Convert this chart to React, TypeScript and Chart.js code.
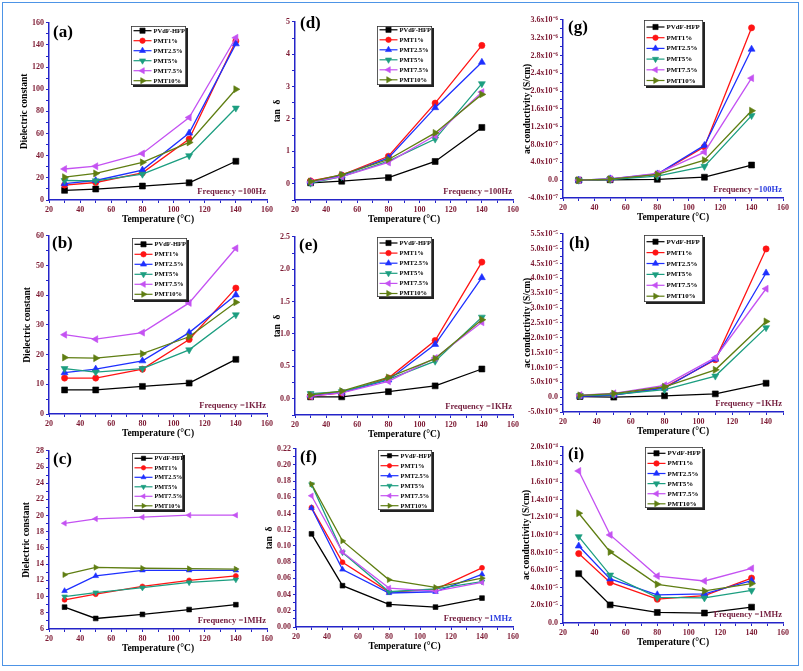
import React, { useEffect, useRef } from 'react';
import { Chart, registerables } from 'chart.js';
Chart.register(...registerables);

// ---------------- DATA ----------------
const temperatures = [30, 50, 80, 110, 140];
const seriesNames = ['PVdF-HFP', 'PMT1%', 'PMT2.5%', 'PMT5%', 'PMT7.5%', 'PMT10%'];

// rows follow seriesNames, columns follow temperatures
const dielectric100Hz = [
  [8.7, 9.9, 12.6, 15.5, 35],
  [13.5, 15.8, 24.5, 55, 143.5],
  [14.7, 17.6, 27, 60.4, 141],
  [17.6, 17.3, 23.3, 40, 83],
  [28, 30.5, 42, 74.5, 146.5],
  [20.6, 24, 34, 52, 100],
];
const tanDelta100Hz = [
  [0.03, 0.08, 0.19, 0.69, 1.74],
  [0.09, 0.27, 0.85, 2.49, 4.27],
  [0.06, 0.25, 0.8, 2.35, 3.75],
  [0.02, 0.22, 0.7, 1.38, 3.09],
  [0.05, 0.22, 0.66, 1.49, 2.83],
  [0.07, 0.28, 0.75, 1.57, 2.76],
];
const conductivity100Hz = [
  [0, 1e-8, 2e-8, 6.7e-8, 3.4e-7],
  [0, 2e-8, 1.3e-7, 7.5e-7, 3.42e-6],
  [0, 3e-8, 1.4e-7, 7.8e-7, 2.94e-6],
  [0, 1.5e-8, 9e-8, 3.1e-7, 1.45e-6],
  [0, 3e-8, 1.5e-7, 6.3e-7, 2.29e-6],
  [0, 2.5e-8, 1.3e-7, 4.5e-7, 1.56e-6],
];
const dielectric1kHz = [
  [8.1, 8.1, 9.3, 10.4, 18.4],
  [12.1, 12.1, 15.1, 25.1, 42.4],
  [13.9, 15.1, 17.9, 27.4, 40.1],
  [15.3, 14.1, 15.3, 21.6, 33.4],
  [26.7, 25.2, 27.4, 37.4, 55.8],
  [19.0, 18.8, 20.3, 26.0, 37.6],
];
const tanDelta1kHz = [
  [0.03, 0.03, 0.11, 0.2, 0.46],
  [0.04, 0.09, 0.32, 0.9, 2.11],
  [0.05, 0.1, 0.29, 0.84, 1.87],
  [0.08, 0.11, 0.3, 0.58, 1.26],
  [0.04, 0.09, 0.27, 0.63, 1.18],
  [0.06, 0.12, 0.33, 0.62, 1.22],
];
const conductivity1kHz = [
  [2e-7, 0, 4.5e-7, 1.1e-6, 4.7e-6],
  [4e-7, 8e-7, 3.3e-6, 1.26e-5, 4.99e-5],
  [3e-7, 7e-7, 3.0e-6, 1.28e-5, 4.18e-5],
  [5e-7, 9e-7, 2.5e-6, 7.1e-6, 2.34e-5],
  [7e-7, 1.3e-6, 4.0e-6, 1.33e-5, 3.65e-5],
  [6e-7, 1.2e-6, 3.5e-6, 9.2e-6, 2.55e-5],
];
const dielectric1MHz = [
  [8.7, 7.3, 7.8, 8.4, 9.0],
  [9.6, 10.3, 11.25, 12.0, 12.55],
  [10.7, 12.55, 13.25, 13.25, 13.25],
  [10.0, 10.5, 11.1, 11.75, 12.1],
  [19.05, 19.6, 19.8, 20.05, 20.05],
  [12.7, 13.6, 13.5, 13.45, 13.4],
];
const tanDelta1MHz = [
  [0.115, 0.051, 0.028, 0.0246, 0.0357],
  [0.1474, 0.08, 0.043, 0.0464, 0.073],
  [0.147, 0.071, 0.042, 0.0435, 0.065],
  [0.176, 0.092, 0.0435, 0.047, 0.056],
  [0.162, 0.0924, 0.048, 0.0443, 0.055],
  [0.1765, 0.1063, 0.0583, 0.0489, 0.0603],
];
const conductivity1MHz = [
  [5.6e-5, 2.06e-5, 1.2e-5, 1.13e-5, 1.8e-5],
  [7.88e-5, 4.6e-5, 2.7e-5, 3.1e-5, 5.1e-5],
  [8.74e-5, 5.0e-5, 3.2e-5, 3.3e-5, 4.8e-5],
  [9.8e-5, 5.44e-5, 2.9e-5, 2.85e-5, 3.7e-5],
  [1.726e-4, 1.0e-4, 5.33e-5, 4.77e-5, 6.2e-5],
  [1.246e-4, 8.07e-5, 4.39e-5, 3.64e-5, 4.47e-5],
];

// ---------------- TICK LABELS ----------------
const temperatureTickLabels = ['20', '40', '60', '80', '100', '120', '140', '160'];
const dielectric100HzTickLabels = ['0', '20', '40', '60', '80', '100', '120', '140', '160'];
const dielectric1kHzTickLabels = ['0', '10', '20', '30', '40', '50', '60'];
const dielectric1MHzTickLabels = ['6', '8', '10', '12', '14', '16', '18', '20', '22', '24', '26', '28'];
const tanDelta100HzTickLabels = ['0', '1', '2', '3', '4', '5'];
const tanDelta1kHzTickLabels = ['0.0', '0.5', '1.0', '1.5', '2.0', '2.5'];
const tanDelta1MHzTickLabels = ['0.00', '0.02', '0.04', '0.06', '0.08', '0.10', '0.12', '0.14', '0.16', '0.18', '0.20', '0.22'];
const conductivity100HzTickValues = [-4e-7, 0, 4e-7, 8e-7, 1.2e-6, 1.6e-6, 2.0e-6, 2.4e-6, 2.8e-6, 3.2e-6, 3.6e-6];
const conductivity100HzTickLabels = ['-4.0x10⁻⁷', '0.0', '4.0x10⁻⁷', '8.0x10⁻⁷', '1.2x10⁻⁶', '1.6x10⁻⁶', '2.0x10⁻⁶', '2.4x10⁻⁶', '2.8x10⁻⁶', '3.2x10⁻⁶', '3.6x10⁻⁶'];
const conductivity1kHzTickValues = [-5e-6, 0, 5e-6, 1e-5, 1.5e-5, 2e-5, 2.5e-5, 3e-5, 3.5e-5, 4e-5, 4.5e-5, 5e-5, 5.5e-5];
const conductivity1kHzTickLabels = ['-5.0x10⁻⁶', '0.0', '5.0x10⁻⁶', '1.0x10⁻⁵', '1.5x10⁻⁵', '2.0x10⁻⁵', '2.5x10⁻⁵', '3.0x10⁻⁵', '3.5x10⁻⁵', '4.0x10⁻⁵', '4.5x10⁻⁵', '5.0x10⁻⁵', '5.5x10⁻⁵'];
const conductivity1MHzTickValues = [0, 2e-5, 4e-5, 6e-5, 8e-5, 1e-4, 1.2e-4, 1.4e-4, 1.6e-4, 1.8e-4, 2e-4];
const conductivity1MHzTickLabels = ['0.0', '2.0x10⁻⁵', '4.0x10⁻⁵', '6.0x10⁻⁵', '8.0x10⁻⁵', '1.0x10⁻⁴', '1.2x10⁻⁴', '1.4x10⁻⁴', '1.6x10⁻⁴', '1.8x10⁻⁴', '2.0x10⁻⁴'];

// ---------------- STYLE ----------------
const FONT = "'Liberation Serif', 'Times New Roman', serif";
const AXIS_BLUE = '#2424c8';
const TICK_RED = '#7d1a33';
const FREQ_RED = '#762040';
const FREQ_BLUE = '#2a3ce0';
const SERIES_COLORS = ['#000000', '#ff1414', '#1e30ff', '#1c9e80', '#c452f2', '#5f7e12'];
const POINT_STYLES = ['rect', 'circle', 'triangle', 'triangle', 'triangle', 'triangle'];
const POINT_ROT = [0, 0, 0, 180, -90, 90];

const DIEL = 'Dielectric constant';
const TAN = 'tan  δ';
const COND = 'ac conductivity (S/cm)';

const panels = [
  { key: 'a', data: dielectric100Hz, yLabels: dielectric100HzTickLabels, yMin: 0, yMax: 160, yTitle: DIEL, freq: '100Hz', freqBlue: false,
    L: 49, T: 22, R: 267, B: 200, yTitleX: 25, letter: [53, 33], legend: [131, 26, 55, 59, 10, 4.7], pr: 3.1, lf: 6.5 },
  { key: 'd', data: tanDelta100Hz, yLabels: tanDelta100HzTickLabels, yMin: -0.5, yMax: 5, yTitle: TAN, freq: '100Hz', freqBlue: false,
    L: 295, T: 21, R: 513, B: 200, yTitleX: 278, letter: [300, 24], legend: [377, 26, 55, 59, 10, 3.8], pr: 3.1, lf: 6.5 },
  { key: 'g', data: conductivity100Hz, yValues: conductivity100HzTickValues, yLabels: conductivity100HzTickLabels, yMin: -4e-7, yMax: 3.6e-6, yTitle: COND, freq: '100Hz', freqBlue: true,
    L: 563, T: 19, R: 783, B: 198, yTitleX: 528, letter: [568, 28], legend: [644, 20, 59, 66, 10.7, 7], pr: 3.1, lf: 6.9 },
  { key: 'b', data: dielectric1kHz, yLabels: dielectric1kHzTickLabels, yMin: 0, yMax: 60, yTitle: DIEL, freq: '1KHz', freqBlue: false,
    L: 49, T: 235, R: 267, B: 414, yTitleX: 28, letter: [52, 244], legend: [132, 238, 55, 62, 10, 6.3], pr: 3.1, lf: 6.5 },
  { key: 'e', data: tanDelta1kHz, yLabels: tanDelta1kHzTickLabels, yMin: -0.25, yMax: 2.5, yTitle: TAN, freq: '1KHz', freqBlue: false,
    L: 295, T: 236, R: 513, B: 415, yTitleX: 278, letter: [299, 246], legend: [377, 237, 55, 60, 10.1, 6], pr: 3.1, lf: 6.5 },
  { key: 'h', data: conductivity1kHz, yValues: conductivity1kHzTickValues, yLabels: conductivity1kHzTickLabels, yMin: -5e-6, yMax: 5.5e-5, yTitle: COND, freq: '1KHz', freqBlue: false,
    L: 563, T: 233, R: 783, B: 412, yTitleX: 528, xMax: 150, letter: [569, 244], legend: [644, 235, 59, 67, 10.9, 6.7], pr: 3.1, lf: 6.9 },
  { key: 'c', data: dielectric1MHz, yLabels: dielectric1MHzTickLabels, yMin: 6, yMax: 28, yTitle: DIEL, freq: '1MHz', freqBlue: false,
    L: 49, T: 450, R: 267, B: 629, yTitleX: 27, letter: [53, 460], legend: [132, 453, 51, 57, 9.5, 5.3], pr: 2.5, lf: 6.2 },
  { key: 'f', data: tanDelta1MHz, yLabels: tanDelta1MHzTickLabels, yMin: 0, yMax: 0.22, yTitle: TAN, freq: '1MHz', freqBlue: true,
    L: 296, T: 448, R: 513, B: 627, yTitleX: 270, letter: [300, 458], legend: [378, 450, 54, 60, 10, 5.7], pr: 2.5, lf: 6.4 },
  { key: 'i', data: conductivity1MHz, yValues: conductivity1MHzTickValues, yLabels: conductivity1MHzTickLabels, yMin: 0, yMax: 2e-4, yTitle: COND, freq: '1MHz', freqBlue: false,
    L: 563, T: 446, R: 783, B: 623, yTitleX: 527, letter: [568, 455], legend: [645, 447, 58, 61, 10.1, 6.3], pr: 3.1, lf: 6.9 },
];

function withMinors(majors: number[], min: number, max: number): number[] {
  const out: number[] = [];
  const step = majors.length > 1 ? majors[1] - majors[0] : 1;
  if (majors[0] - step / 2 >= min - step * 1e-6) out.push(majors[0] - step / 2);
  for (let i = 0; i < majors.length; i++) {
    out.push(majors[i]);
    if (i < majors.length - 1) out.push((majors[i] + majors[i + 1]) / 2);
  }
  const last = majors[majors.length - 1];
  if (last + step / 2 <= max + step * 1e-6) out.push(last + step / 2);
  return out.filter((v) => v >= min - step * 1e-6 && v <= max + step * 1e-6);
}

function markerRadius(style: string, base: number) {
  if (style === 'rect') return base * 1.35;
  if (style === 'triangle') return base * 1.3;
  return base;
}

function drawMarker(ctx: CanvasRenderingContext2D, style: string, rotation: number, r: number, x: number, y: number) {
  ctx.beginPath();
  if (style === 'circle') {
    ctx.arc(x, y, r, 0, Math.PI * 2);
  } else if (style === 'rect') {
    const s = r * Math.SQRT1_2;
    ctx.rect(x - s, y - s, 2 * s, 2 * s);
  } else {
    let rad = (rotation * Math.PI) / 180;
    ctx.moveTo(x + Math.sin(rad) * r, y - Math.cos(rad) * r);
    rad += (2 * Math.PI) / 3;
    ctx.lineTo(x + Math.sin(rad) * r, y - Math.cos(rad) * r);
    rad += (2 * Math.PI) / 3;
    ctx.lineTo(x + Math.sin(rad) * r, y - Math.cos(rad) * r);
    ctx.closePath();
  }
  ctx.fill();
  ctx.stroke();
}

const PAD_TOP = 6;
const PAD_RIGHT = 8;
const X_H = 26;
const TITLE_LH = 9.5 * 1.2;

function Panel({ p }: { p: any }) {
  const ref = useRef<HTMLCanvasElement | null>(null);
  const canvasLeft = Math.floor(p.yTitleX - 7);
  const yW = p.L - canvasLeft;
  const titlePad = p.yTitleX - canvasLeft - TITLE_LH / 2;
  const canvasTop = p.T - PAD_TOP;
  const width = Math.round(p.R - canvasLeft + PAD_RIGHT);
  const height = Math.round(p.B - p.T + PAD_TOP + X_H);

  useEffect(() => {
    const canvas = ref.current;
    if (!canvas) return;
    const xMax = p.xMax ?? 160;
    const xMajors = temperatureTickLabels.map(Number).filter((v) => v <= xMax);
    const xTicks = withMinors(xMajors, 20, xMax);
    const yMajors: number[] = p.yValues ?? p.yLabels.map(Number);
    const yTicks = withMinors(yMajors, p.yMin, p.yMax);
    const yStep = yMajors[1] - yMajors[0];

    const datasets = seriesNames.map((name, s) => ({
      label: name,
      data: temperatures.map((t, i) => ({ x: t, y: p.data[s][i] })),
      borderColor: SERIES_COLORS[s],
      backgroundColor: SERIES_COLORS[s],
      pointBackgroundColor: SERIES_COLORS[s],
      pointBorderColor: SERIES_COLORS[s],
      pointStyle: POINT_STYLES[s],
      rotation: POINT_ROT[s],
      pointRadius: markerRadius(POINT_STYLES[s], p.pr),
      pointBorderWidth: 0.6,
      borderWidth: 1.3,
      tension: 0,
      fill: false,
      order: seriesNames.length - s,
    }));

    const deco = {
      id: 'deco' + p.key,
      afterDraw(chart: any) {
        const ctx: CanvasRenderingContext2D = chart.ctx;
        const ox = canvasLeft;
        const oy = canvasTop;
        ctx.save();
        // panel letter
        ctx.font = `bold 17px ${FONT}`;
        ctx.fillStyle = '#000';
        ctx.textAlign = 'left';
        ctx.textBaseline = 'middle';
        ctx.fillText(`(${p.key})`, p.letter[0] - ox, p.letter[1] - oy);
        // frequency note
        const area = chart.chartArea;
        ctx.font = `bold 8.5px ${FONT}`;
        const part1 = 'Frequency =';
        const part2 = p.freq;
        const w1 = ctx.measureText(part1).width;
        const w2 = ctx.measureText(part2).width;
        const fx = area.right - 1 - w1 - w2;
        const fy = area.bottom - 8;
        ctx.fillStyle = FREQ_RED;
        ctx.fillText(part1, fx, fy);
        ctx.fillStyle = p.freqBlue ? FREQ_BLUE : FREQ_RED;
        ctx.fillText(part2, fx + w1, fy);
        // legend
        const [bx0, by0, bw, bh, rowH, first] = p.legend;
        const bx = bx0 - ox;
        const by = by0 - oy;
        ctx.fillStyle = '#222';
        ctx.fillRect(bx + 2, by + 2, bw, bh);
        ctx.fillStyle = '#fff';
        ctx.fillRect(bx, by, bw, bh);
        ctx.strokeStyle = '#333';
        ctx.lineWidth = 0.8;
        ctx.strokeRect(bx + 0.4, by + 0.4, bw - 0.8, bh - 0.8);
        ctx.font = `bold ${p.lf}px ${FONT}`;
        ctx.textBaseline = 'middle';
        seriesNames.forEach((name, s) => {
          const ry = by + first + s * rowH;
          ctx.strokeStyle = SERIES_COLORS[s];
          ctx.fillStyle = SERIES_COLORS[s];
          ctx.lineWidth = 1.2;
          ctx.beginPath();
          ctx.moveTo(bx + 2.5, ry);
          ctx.lineTo(bx + 20.5, ry);
          ctx.stroke();
          ctx.lineWidth = 0.6;
          drawMarker(ctx, POINT_STYLES[s], POINT_ROT[s], markerRadius(POINT_STYLES[s], p.pr) * 0.88, bx + 11.5, ry);
          ctx.fillStyle = '#000';
          ctx.fillText(name, bx + 22.5, ry + 0.3);
        });
        ctx.restore();
      },
    };

    const tickFont = { family: FONT, size: 8, weight: 'bold' as const };
    const titleFont = { family: FONT, size: 9.5, weight: 'bold' as const };

    const chart = new Chart(canvas, {
      type: 'line',
      data: { datasets },
      options: {
        animation: false,
        responsive: false,
        maintainAspectRatio: false,
        layout: { padding: { left: 0, right: PAD_RIGHT, top: PAD_TOP, bottom: 0 } },
        plugins: { legend: { display: false }, tooltip: { enabled: false }, title: { display: false } },
        scales: {
          x: {
            type: 'linear',
            min: 20,
            max: xMax,
            border: { display: true, color: AXIS_BLUE, width: 1.5 },
            grid: { drawOnChartArea: false, drawTicks: true, tickLength: 3, color: AXIS_BLUE, tickWidth: 1 },
            afterBuildTicks: (scale: any) => { scale.ticks = xTicks.map((value) => ({ value })); },
            afterFit: (scale: any) => { scale.height = X_H; },
            ticks: {
              autoSkip: false,
              maxRotation: 0,
              padding: 2,
              color: TICK_RED,
              font: tickFont,
              callback: (value: any) => {
                const i = xMajors.findIndex((m) => Math.abs(m - value) < 0.01);
                return i >= 0 ? temperatureTickLabels[i] : '';
              },
            },
            title: { display: true, text: 'Temperature (°C)', color: '#000', font: titleFont, padding: { top: 0, bottom: 0.8 } },
          },
          y: {
            type: 'linear',
            min: p.yMin,
            max: p.yMax,
            border: { display: true, color: AXIS_BLUE, width: 1.5 },
            grid: { drawOnChartArea: false, drawTicks: true, tickLength: 3, color: AXIS_BLUE, tickWidth: 1 },
            afterBuildTicks: (scale: any) => { scale.ticks = yTicks.map((value) => ({ value })); },
            afterFit: (scale: any) => { scale.width = yW; },
            ticks: {
              autoSkip: false,
              padding: 2,
              color: TICK_RED,
              font: tickFont,
              callback: (value: any) => {
                const i = yMajors.findIndex((m) => Math.abs(m - value) < Math.abs(yStep) * 1e-3);
                return i >= 0 ? p.yLabels[i] : '';
              },
            },
            title: { display: true, text: p.yTitle, color: '#000', font: titleFont, padding: { top: titlePad, bottom: 0 } },
          },
        },
      },
      plugins: [deco],
    } as any);
    return () => chart.destroy();
  }, []);

  return (
    <canvas
      ref={ref}
      width={width}
      height={height}
      style={{ position: 'absolute', left: canvasLeft, top: canvasTop, width, height }}
    />
  );
}

export default function App() {
  return (
    <div style={{ position: 'absolute', left: 0, top: 0, width: 803, height: 671, background: '#fff', overflow: 'hidden' }}>
      <div
        style={{
          position: 'absolute',
          left: 2,
          top: 2,
          width: 797,
          height: 664,
          boxSizing: 'border-box',
          border: '1.5px solid #4d94e6',
        }}
      />
      {panels.map((p) => (
        <Panel key={p.key} p={p} />
      ))}
    </div>
  );
}
